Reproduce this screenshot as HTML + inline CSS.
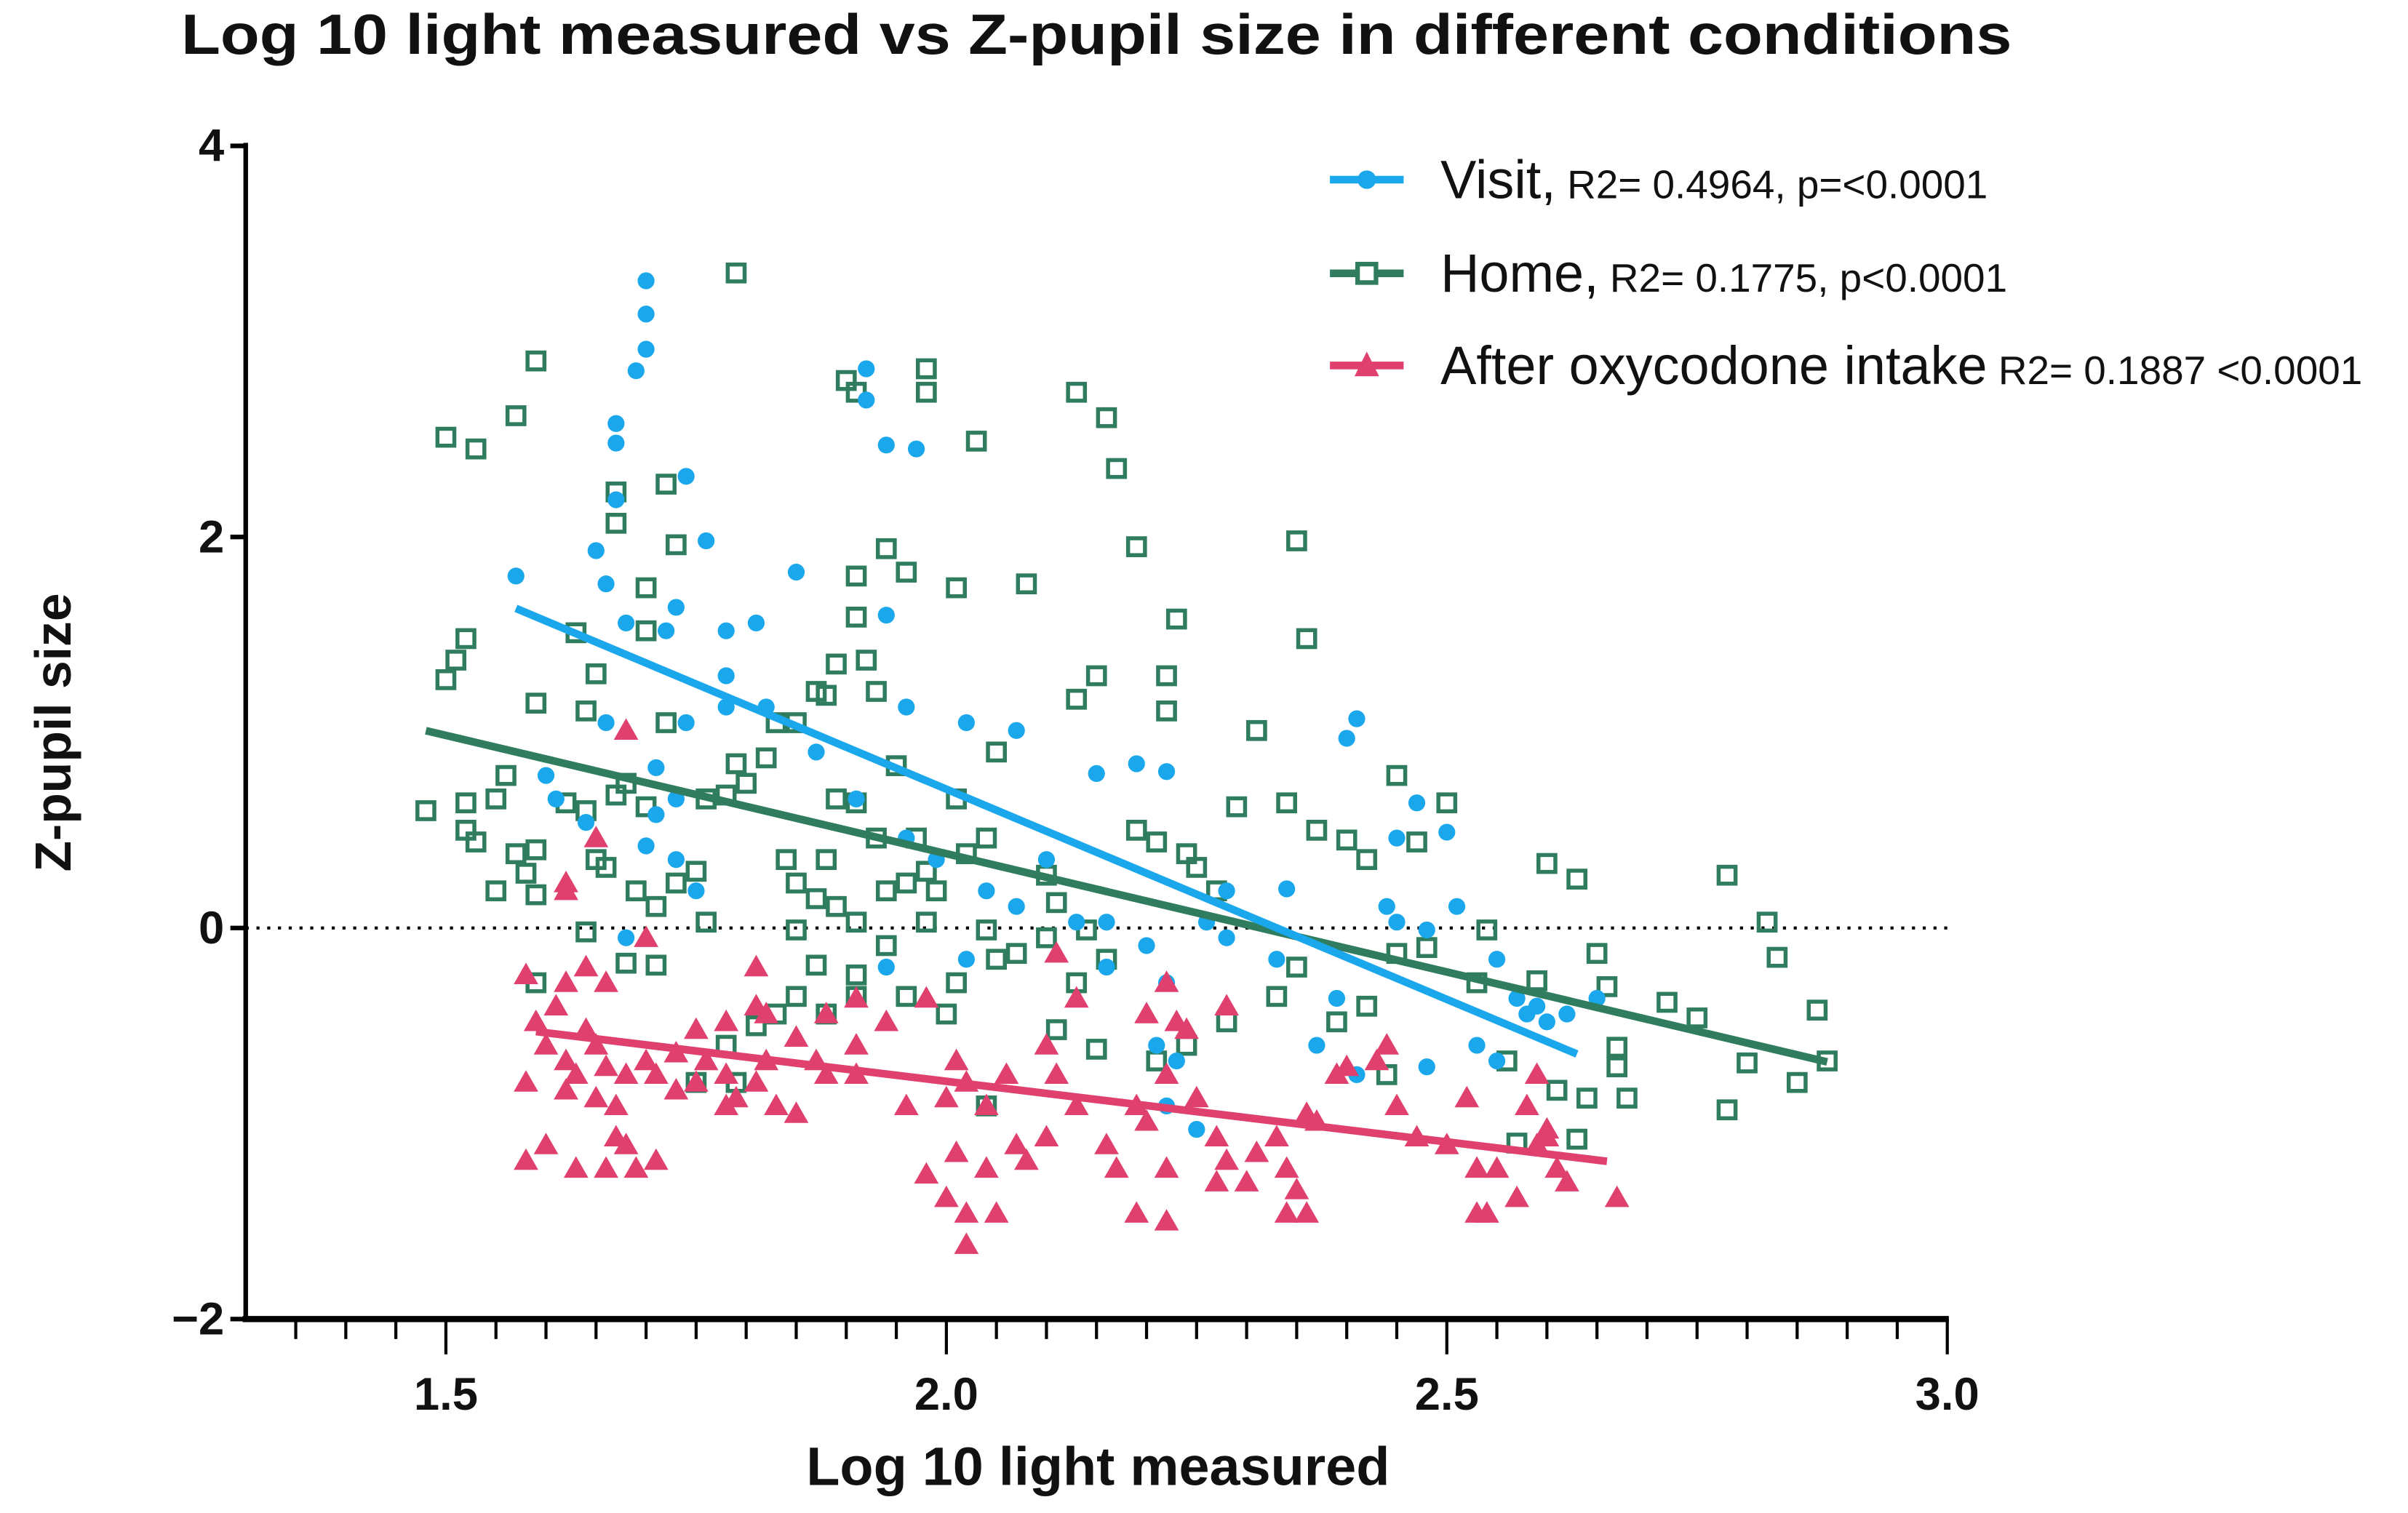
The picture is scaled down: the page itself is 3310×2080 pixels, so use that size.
<!DOCTYPE html>
<html><head><meta charset="utf-8"><style>
html,body{margin:0;padding:0;background:#fff;}
svg{display:block;font-family:"Liberation Sans",Arial,sans-serif;}
</style></head><body>
<svg id="chart" width="3310" height="2080" viewBox="0 0 1568 985.3" preserveAspectRatio="none" xmlns="http://www.w3.org/2000/svg">
<text x="118" y="35" font-size="37" font-weight="bold" fill="#111" textLength="1192" lengthAdjust="spacingAndGlyphs">Log 10 light measured vs Z-pupil size in different conditions</text>
<g id="axes"></g>
<g id="marks"></g>
<text x="525" y="967" font-size="35" font-weight="bold" fill="#111" textLength="380" lengthAdjust="spacingAndGlyphs">Log 10 light measured</text>
<text transform="translate(46,477) rotate(-90)" font-size="33" font-weight="bold" text-anchor="middle" fill="#111">Z-pupil size</text>
<g>
 <g>
  <line x1="866" y1="117" x2="914" y2="117" stroke="#1aa7ec" stroke-width="5"/>
  <circle cx="890" cy="117" r="6" fill="#1aa7ec"/>
  <text x="938" y="129" font-size="35" fill="#111">Visit,<tspan font-size="26"> R2= 0.4964, p=&lt;0.0001</tspan></text>
 </g>
 <g>
  <line x1="866" y1="178" x2="914" y2="178" stroke="#2f7d5e" stroke-width="5"/>
  <rect x="884" y="172" width="12" height="12" fill="#fff" stroke="#2f7d5e" stroke-width="3"/>
  <text x="938" y="190" font-size="35" fill="#111">Home,<tspan font-size="26"> R2= 0.1775, p&lt;0.0001</tspan></text>
 </g>
 <g>
  <line x1="866" y1="238" x2="914" y2="238" stroke="#e0406e" stroke-width="5"/>
  <polygon points="890,229 898,245 882,245" fill="#e0406e"/>
  <text x="938" y="250" font-size="35" fill="#111">After oxycodone intake<tspan font-size="26"> R2= 0.1887 &lt;0.0001</tspan></text>
 </g>
</g>
</svg>
<script>
const xTicks=[1.5,2.0,2.5,3.0];
const xTickLabels=["1.5","2.0","2.5","3.0"];
const yTicks=[4,2,0,-2];
const yTickLabels=["4","2","0","\u22122"];
const visitX=[1.70,1.70,1.70,1.69,1.67,1.67,1.67,1.65,1.57,1.66,1.68,1.72,1.73,1.76,1.74,1.78,1.81,1.85,1.92,1.92,1.94,1.97,1.94,1.96,2.02,2.07,2.15,2.19,2.22,2.41,2.40,2.47,2.50,2.45,2.45,2.48,2.48,2.55,2.57,2.58,2.59,2.60,2.62,2.65,2.55,2.53,2.41,2.39,2.34,2.33,2.28,2.22,2.21,2.23,2.16,2.13,2.10,2.04,1.99,1.96,1.91,1.87,1.82,1.78,1.74,1.71,1.71,1.73,1.75,1.73,1.70,1.64,1.61,1.60,1.66,1.68,1.78,1.94,2.02,2.07,2.16,2.20,2.26,2.22,2.25,2.28,2.37,2.44,2.51];
const visitY=[3.31,3.14,2.96,2.85,2.58,2.48,2.19,1.93,1.80,1.76,1.56,1.52,1.64,1.98,2.31,1.52,1.56,1.82,2.86,2.70,2.47,2.45,1.60,1.13,1.05,1.01,0.79,0.84,0.80,1.07,0.97,0.64,0.49,0.46,0.03,-0.01,-0.71,-0.16,-0.36,-0.44,-0.40,-0.48,-0.44,-0.36,-0.68,-0.60,-0.75,-0.36,0.20,-0.16,-0.05,-0.28,-0.60,-0.68,-0.20,0.03,0.35,0.19,0.35,0.46,0.66,0.90,1.13,1.29,1.05,0.82,0.58,0.35,0.19,0.66,0.42,0.54,0.66,0.78,1.05,-0.05,1.13,-0.20,-0.16,0.11,0.03,-0.09,0.03,-0.91,-1.03,0.19,-0.60,0.11,0.11];
const homeX=[1.59,1.57,1.50,1.53,1.79,1.72,1.67,1.67,1.73,1.70,1.65,1.52,1.51,1.50,1.59,1.64,1.48,1.52,1.52,1.53,1.56,1.55,1.57,1.59,1.58,1.55,1.59,1.62,1.64,1.67,1.68,1.70,1.65,1.66,1.69,1.71,1.73,1.75,1.76,1.78,1.79,1.82,1.83,1.87,1.89,1.91,1.90,1.91,1.98,1.98,2.03,2.01,1.94,1.96,1.92,1.93,1.95,1.91,1.93,1.88,1.85,1.87,1.89,1.91,1.94,1.96,1.98,1.99,1.97,2.01,2.02,2.04,2.05,2.08,2.13,2.16,2.17,2.19,2.23,2.22,2.22,2.15,2.13,2.10,2.11,2.14,2.16,2.19,2.21,2.24,2.25,2.27,2.31,2.29,2.35,2.36,2.34,2.37,2.40,2.42,2.45,2.47,2.50,2.45,2.48,2.54,2.59,2.60,2.63,2.65,2.66,2.67,2.67,2.72,2.75,2.78,2.82,2.83,2.87,2.85,2.88,2.80,2.78,2.57,2.63,2.61,2.64,2.68,2.56,2.53,2.44,2.42,2.39,2.35,2.33,2.28,2.24,2.21,2.15,2.11,2.05,2.01,2.00,1.96,1.91,1.88,1.85,1.83,1.81,1.78,1.79,1.75,1.68,1.64,1.59,1.71,1.76,1.84,1.85,1.87,1.91,1.94,1.98,2.04,2.07,2.10,2.13,2.04,1.72,1.70,1.63,1.91,1.88,1.80,1.85,1.89];
const homeY=[2.90,2.62,2.51,2.45,3.35,2.27,2.23,2.07,1.96,1.74,1.30,1.48,1.37,1.27,1.15,1.11,0.60,0.64,0.50,0.44,0.78,0.66,0.38,0.40,0.28,0.19,0.17,0.64,0.60,0.68,0.74,0.62,0.35,0.31,0.19,0.11,0.23,0.29,0.66,0.68,0.84,0.87,1.05,1.21,1.35,1.80,2.80,2.74,2.86,2.74,2.49,1.74,1.94,1.82,1.37,1.21,0.83,0.64,0.46,0.35,0.23,0.15,0.11,0.03,0.19,0.23,0.29,0.19,0.46,0.66,0.38,0.46,0.90,1.76,2.74,2.61,2.35,1.95,1.58,1.29,1.11,1.29,1.17,0.27,0.13,-0.01,-0.16,0.50,0.44,0.38,0.31,0.19,1.01,0.62,1.98,1.48,0.64,0.50,0.45,0.35,0.78,0.44,0.64,-0.13,-0.10,-0.01,-0.27,0.33,0.25,-0.13,-0.30,-0.61,-0.71,-0.38,-0.46,0.27,0.03,-0.15,-0.42,-0.79,-0.68,-0.69,-0.93,-1.10,-1.08,-0.83,-0.87,-0.87,-0.68,-0.28,-0.75,-0.40,-0.48,-0.20,-0.35,-0.48,-0.60,-0.68,-0.62,-0.52,-0.16,-0.28,-0.44,-0.35,-0.35,-0.44,-0.35,-0.44,-0.50,-0.60,-0.79,-0.79,-0.18,-0.02,-0.28,-0.19,0.03,0.35,-0.01,-0.19,-0.24,-0.09,0.03,-0.01,-0.13,-0.05,-0.28,-0.91,1.05,1.52,1.51,1.59,1.19,0.74,1.05,0.66];
const oxyX=[1.58,1.62,1.61,1.59,1.64,1.60,1.62,1.63,1.65,1.66,1.58,1.62,1.65,1.67,1.68,1.70,1.73,1.75,1.76,1.78,1.79,1.81,1.82,1.85,1.87,1.88,1.83,1.85,1.78,1.73,1.67,1.68,1.69,1.71,1.66,1.58,1.60,1.63,1.68,1.65,1.62,1.66,1.70,1.81,1.81,1.91,1.94,1.91,1.98,2.01,2.02,2.04,2.01,2.04,1.98,2.00,2.02,2.05,2.02,2.07,2.08,2.06,2.10,2.11,2.13,2.10,2.16,2.17,2.19,2.20,2.22,2.24,2.25,2.27,2.28,2.22,2.19,2.22,2.27,2.30,2.31,2.33,2.34,2.36,2.37,2.39,2.40,2.43,2.44,2.45,2.47,2.50,2.52,2.53,2.55,2.57,2.59,2.60,2.60,2.61,2.62,2.67,2.58,2.59,2.53,2.54,2.35,2.36,2.34,2.11,2.13,2.20,2.23,2.22,2.28,2.00,1.96,1.91,1.88,1.82,1.78,1.75,1.71,1.64,1.62];
const oxyY=[-0.24,-0.28,-0.40,-0.48,-0.52,-0.60,-0.68,-0.75,-0.60,-0.71,-0.79,-0.83,-0.87,-0.91,-0.75,-0.68,-0.64,-0.52,-0.68,-0.75,-0.87,-0.79,-0.68,-0.56,-0.68,-0.75,-0.91,-0.95,-0.91,-0.83,-1.07,-1.11,-1.23,-1.19,-1.23,-1.19,-1.11,-1.23,1.01,0.46,0.19,-0.28,-0.05,-0.20,-0.40,-0.36,-0.48,-0.75,-0.36,-0.68,-0.79,-0.91,-1.15,-1.23,-1.26,-1.38,-1.46,-1.46,-1.62,-1.11,-1.19,-0.75,-0.60,-0.75,-0.91,-1.07,-1.11,-1.23,-0.91,-0.99,-0.75,-0.52,-0.87,-1.07,-1.19,-1.23,-1.46,-1.50,-1.30,-1.30,-1.15,-1.07,-1.23,-0.95,-0.99,-0.75,-0.71,-0.68,-0.60,-0.91,-1.07,-1.11,-0.87,-1.23,-1.23,-1.38,-1.11,-1.03,-1.07,-1.23,-1.30,-1.38,-0.91,-0.75,-1.46,-1.46,-1.34,-1.46,-1.46,-0.13,-0.36,-0.44,-0.48,-0.28,-0.40,-0.87,-0.91,-0.60,-0.44,-0.44,-0.48,-0.79,-0.75,-0.20,0.23];
// regression fits: [slope, intercept, xStart, xEnd]
const fitVisit=[-2.15,5.01,1.57,2.63];
const fitHome=[-1.21,2.80,1.48,2.88];
const fitOxy=[-0.62,0.456,1.59,2.66];

const NS="http://www.w3.org/2000/svg";
const X0=160,X1=1268,XMIN=1.3,XMAX=3.0,Y0=859,Y1=95,YMIN=-2,YMAX=4;
function sx(v){return X0+(v-XMIN)/(XMAX-XMIN)*(X1-X0);}
function sy(v){return Y0-(v-YMIN)/(YMAX-YMIN)*(Y0-Y1);}
function mk(tag,attrs,parent){const e=document.createElementNS(NS,tag);for(const k in attrs)e.setAttribute(k,attrs[k]);parent.appendChild(e);return e;}
const axes=document.getElementById('axes'),marks=document.getElementById('marks');

let ya=mk('line',{x1:X0,y1:Y1-2,x2:X0,y2:Y0,stroke:'#000','stroke-width':3},axes);


let xa=mk('line',{x1:X0-2,y1:Y0,x2:X1+1,y2:Y0,stroke:'#000','stroke-width':4},axes);


for(let i=0;i<=34;i++){const v=XMIN+i*0.05;if(v<1.3+0.04)continue;
 const major=xTicks.some(t=>Math.abs(t-v)<1e-6);
 const t=mk('line',{x1:sx(v),y1:Y0,x2:sx(v),y2:Y0+(major?23:13),stroke:'#000','stroke-width':2},axes);
 
 }
xTicks.forEach((v,i)=>{const t=mk('text',{x:sx(v),y:918,'font-size':30,'font-weight':'bold','text-anchor':'middle',fill:'#111'},axes);t.textContent=xTickLabels[i];
 
 });
yTicks.forEach((v,i)=>{const l=mk('line',{x1:X0-10,y1:sy(v),x2:X0,y2:sy(v),stroke:'#000','stroke-width':3},axes);
 
 
 const t=mk('text',{x:X0-14,y:sy(v)+10,'font-size':30,'font-weight':'bold','text-anchor':'end',fill:'#111'},axes);t.textContent=yTickLabels[i];
 
 });
let zl=mk('line',{x1:X0,y1:sy(0),x2:X1,y2:sy(0),stroke:'#000','stroke-width':2,'stroke-dasharray':'2 5'},axes);



homeX.forEach((x,i)=>{const r=mk('rect',{x:sx(x)-5.5,y:sy(homeY[i])-5.5,width:11,height:11,fill:'none',stroke:'#2f7d5e','stroke-width':2.6},marks);
 
 });
visitX.forEach((x,i)=>{const c=mk('circle',{cx:sx(x),cy:sy(visitY[i]),r:5.5,fill:'#1aa7ec'},marks);
 
 });
oxyX.forEach((x,i)=>{const cx=sx(x),cy=sy(oxyY[i]);const p=mk('polygon',{points:`${cx},${cy-8} ${cx+8},${cy+6} ${cx-8},${cy+6}`,fill:'#e0406e'},marks);
 
 });
function fit(f,col,name){const l=mk('line',{x1:sx(f[2]),y1:sy(f[0]*f[2]+f[1]),x2:sx(f[3]),y2:sy(f[0]*f[3]+f[1]),stroke:col,'stroke-width':5},marks);
 
 }
fit(fitHome,'#2f7d5e','home-fit-line');
fit(fitOxy,'#e0406e','oxycodone-fit-line');
fit(fitVisit,'#1aa7ec','visit-fit-line');
</script>
</body></html>
